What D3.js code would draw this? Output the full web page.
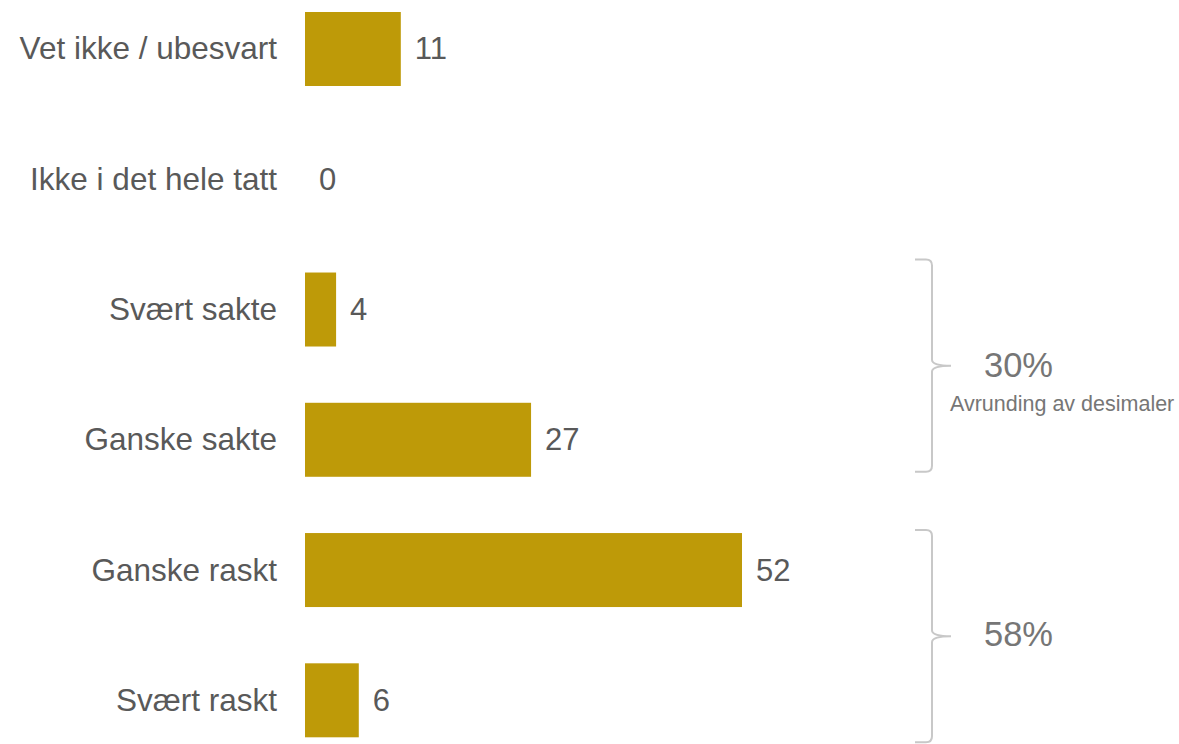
<!DOCTYPE html>
<html>
<head>
<meta charset="utf-8">
<script src="https://cdn.jsdelivr.net/npm/d3@7"></script>
<style>
  html, body { margin: 0; padding: 0; background: #ffffff; }
  svg { display: block; font-family: "Liberation Sans", Arial, sans-serif; }
</style>
</head>
<body>
<svg id="chart" width="1179" height="744"></svg>
<script>
// ---- data ----
const categories = ["Vet ikke / ubesvart", "Ikke i det hele tatt", "Svært sakte", "Ganske sakte", "Ganske raskt", "Svært raskt"];
const values = [11.4, 0, 3.7, 26.9, 52, 6.4];
const groupLabels = ["30%", "58%"];
const groupNotes = ["Avrunding av desimaler", ""];
const groupMembers = [["Svært sakte", "Ganske sakte"], ["Ganske raskt", "Svært raskt"]];

// ---- drawing ----
const svg = d3.select("#chart");
const barColor = "#BE9A08";
const textColor = "#595959";
const groupColor = "#767676";
const bracketColor = "#C8C8C8";

const x = d3.scaleLinear().domain([0, 52]).range([305, 742]);
const y = d3.scaleBand().domain(categories).range([12, 737.3]).paddingInner(0.432).paddingOuter(0);
const bw = y.bandwidth();

const rows = svg.append("g").selectAll("g").data(categories).join("g");

rows.append("rect")
  .attr("x", x(0))
  .attr("y", d => y(d))
  .attr("width", (d, i) => x(values[i]) - x(0))
  .attr("height", bw)
  .attr("fill", barColor);

rows.append("text")
  .attr("x", 277)
  .attr("y", d => y(d) + bw / 2 + 10.5)
  .attr("text-anchor", "end")
  .attr("font-size", 31.5)
  .attr("fill", textColor)
  .text(d => d);

rows.append("text")
  .attr("x", (d, i) => x(values[i]) + 14)
  .attr("y", d => y(d) + bw / 2 + 10.5)
  .attr("font-size", 31)
  .attr("fill", textColor)
  .text((d, i) => d3.format(".0f")(values[i]));

// ---- group brackets ----
const bx = 932, tipX = 951, curl = 17, r = 6;
const bracketPad = [[-13, -5], [-3, 5]];
groupMembers.forEach((m, gi) => {
  const top = y(m[0]) + bracketPad[gi][0];
  const bottom = y(m[m.length - 1]) + bw + bracketPad[gi][1];
  const mid = (top + bottom) / 2;
  const p = d3.path();
  p.moveTo(bx - curl, top);
  p.lineTo(bx - r, top);
  p.quadraticCurveTo(bx, top, bx, top + r);
  p.lineTo(bx, mid - r);
  p.quadraticCurveTo(bx, mid, tipX, mid);
  p.moveTo(bx - curl, bottom);
  p.lineTo(bx - r, bottom);
  p.quadraticCurveTo(bx, bottom, bx, bottom - r);
  p.lineTo(bx, mid + r);
  p.quadraticCurveTo(bx, mid, tipX, mid);
  svg.append("path")
    .attr("d", p.toString())
    .attr("fill", "none")
    .attr("stroke", bracketColor)
    .attr("stroke-width", 2);

  svg.append("text")
    .attr("x", 984)
    .attr("y", mid + (gi === 0 ? 11.5 : 9.5))
    .attr("font-size", 34.5)
    .attr("fill", groupColor)
    .text(groupLabels[gi]);

  if (groupNotes[gi]) {
    svg.append("text")
      .attr("x", 950)
      .attr("y", mid + 45)
      .attr("font-size", 21.5)
      .attr("fill", groupColor)
      .text(groupNotes[gi]);
  }
});
</script>
</body>
</html>
